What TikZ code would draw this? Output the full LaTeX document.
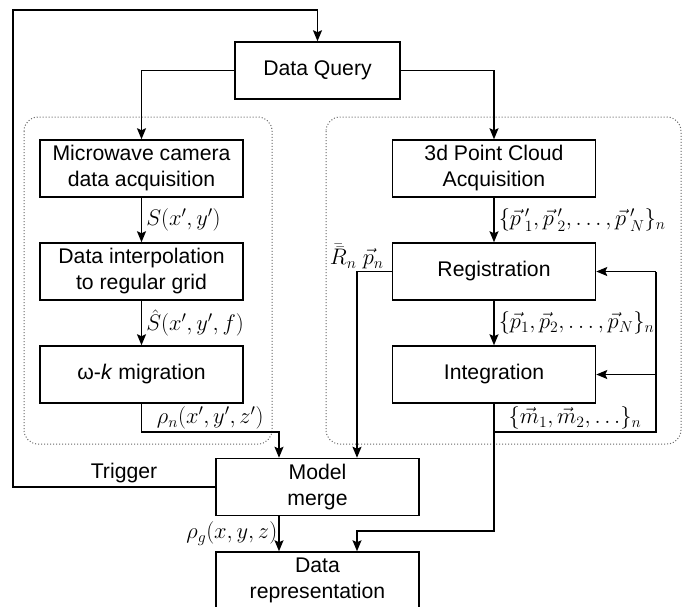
\RequirePackage{fix-cm}
\documentclass[tikz,border=0pt]{standalone}
\usepackage{fontspec}
\setmainfont{Liberation Sans}
\usetikzlibrary{arrows.meta}
\begin{document}
\begin{tikzpicture}[x=1pt,y=-1pt,
 box/.style={draw, line width=1.5pt, minimum width=203pt, minimum height=57pt, align=center, inner sep=0pt, font=\fontsize{21.2}{26}\selectfont},
 conn/.style={line width=1.5pt},
 arr/.style={conn, -{Stealth[length=11pt,width=9pt,inset=2pt]}},
 lbl/.style={font=\fontsize{22.5}{27}\selectfont, inner sep=4pt},
 txt/.style={font=\fontsize{21.2}{26}\selectfont, inner sep=4pt},
 group/.style={draw=gray!80!black, dotted, line width=1pt, rounded corners=14pt}]
\useasboundingbox (0,0) rectangle (696,606);

% dotted groups
\draw[group] (24,117) rectangle (272,444);
\draw[group] (326,117) rectangle (681,444);

% boxes
\node[box, minimum width=165pt] (query) at (317.5,70.5) {Data Query};
\node[box] (mw) at (141.5,168.5) {Microwave camera\\data acquisition};
\node[box] (interp) at (141.5,271.5) {Data interpolation\\to regular grid};
\node[box] (mig) at (141.5,374.5) {ω-\textit{k} migration};
\node[box] (pc) at (494,168.5) {3d Point Cloud\\Acquisition};
\node[box] (reg) at (494,271.5) {Registration};
\node[box] (integ) at (494,374.5) {Integration};
\node[box] (merge) at (317.5,487) {Model\\merge};
\node[box] (rep) at (317.5,580.5) {Data\\representation};

% helper coordinates
\coordinate (tl) at (13,10);
\coordinate (tr) at (317.5,10);
\coordinate (bl) at (13,487);
\coordinate (qL) at (141.5,70.5);
\coordinate (qR) at (494,70.5);
\coordinate (m1) at (141.5,432);
\coordinate (m2) at (279,432);
\coordinate (J) at (494,432);
\coordinate (JR) at (656,432);
\coordinate (RR) at (656,271.5);
\coordinate (IR) at (656,374.5);
\coordinate (J2) at (494,531);
\coordinate (J3) at (357,531);
\coordinate (RL) at (357,271.5);

% connectors
\draw[arr] (merge.west) -- (bl) -- (tl) -- (tr) -- (query.north);
\draw[arr] (query.west) -- (qL) -- (mw.north);
\draw[arr] (query.east) -- (qR) -- (pc.north);
\draw[arr] (mw) -- node[lbl, right] {$S(x',y')$} (interp);
\draw[arr] (interp) -- node[lbl, right] {$\hat{S}(x',y',f)$} (mig);
\draw[arr] (mig.south) -- (m1) -- node[lbl, above, inner sep=2pt] {$\rho_n(x',y',z')$} (m2) -- (m2 |- merge.north);
\draw[arr] (pc) -- node[lbl, right] {$\{\vec{p}\,'_1,\vec{p}\,'_2,\ldots,\vec{p}\,'_N\}_n$} (reg);
\draw[arr] (reg) -- node[lbl, right] {$\{\vec{p}_1,\vec{p}_2,\ldots,\vec{p}_N\}_n$} (integ);
\draw[conn] (integ.south) -- (J) -- node[lbl, above, inner sep=2pt] {$\{\vec{m}_1,\vec{m}_2,\ldots\}_n$} (JR) -- (RR);
\draw[arr] (RR) -- (reg.east);
\draw[arr] (IR) -- (integ.east);
\draw[arr] (J) -- (J2) -- (J3) -- (J3 |- rep.north);
\draw[arr] (reg.west) -- (RL) -- (RL |- merge.north);
\node[lbl, anchor=south east, inner xsep=8pt, inner ysep=2pt] (rlab) at (reg.west) {$\bar{\bar{R}}_n\ \vec{p}_n$};
\draw[arr] (merge.south -| m2) -- node[lbl, left, inner sep=1pt] {$\rho_g(x,y,z)$} (m2 |- rep.north);
\node[txt, above] (trig) at (124,487) {Trigger};
\end{tikzpicture}
\end{document}
